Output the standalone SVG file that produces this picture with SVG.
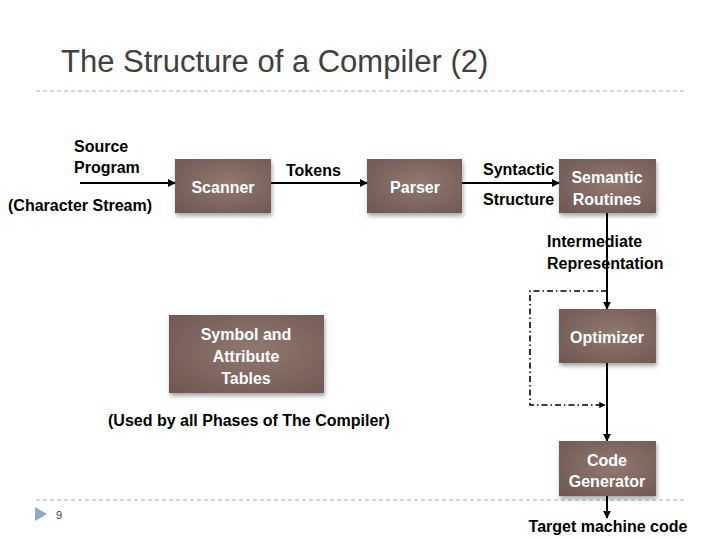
<svg xmlns="http://www.w3.org/2000/svg" width="720" height="540" viewBox="0 0 720 540">
<style>
.t{font-family:"Liberation Sans","Noto Sans CJK JP",sans-serif;font-weight:bold;font-size:16px;fill:#000}
.w{font-family:"Liberation Sans","Noto Sans CJK JP",sans-serif;font-weight:bold;font-size:16px;fill:#fff;text-anchor:middle}
.box{fill:url(#g);filter:url(#sh)}
.ln{stroke:#000;stroke-width:2;fill:none}
.dd{stroke:#000;stroke-width:1.6;fill:none;stroke-dasharray:6,3,1.5,3}
.sep{stroke:#b0b0b0;stroke-width:1;stroke-dasharray:4,3}
</style>
<defs>
<radialGradient id="g" cx="0.55" cy="0.45" r="0.75">
<stop offset="0" stop-color="#917870"/>
<stop offset="1" stop-color="#6f5751"/>
</radialGradient>
<filter id="sh" x="-10%" y="-10%" width="120%" height="130%">
<feDropShadow dx="1" dy="3" stdDeviation="2" flood-color="#000" flood-opacity="0.35"/>
</filter>
<marker id="a" viewBox="0 0 10 10" refX="9" refY="5" markerWidth="4" markerHeight="4" orient="auto">
<path d="M0,0 L10,5 L0,10 z" fill="#000"/>
</marker>
</defs>
<rect width="720" height="540" fill="#fff"/>
<text x="61" y="72" style="font-family:'Liberation Sans',sans-serif;font-size:31px;fill:#404040">The Structure of a Compiler (2)</text>
<line class="sep" x1="36" y1="91" x2="685" y2="91"/>
<line class="sep" x1="36" y1="500" x2="685" y2="500"/>
<path d="M35,507 L47,514 L35,521 z" fill="#8eaac4"/>
<text x="56" y="519" style="font-family:'Liberation Sans',sans-serif;font-size:11px;fill:#404040">9</text>

<g id="connectors">
<line class="ln" x1="80" y1="183" x2="175" y2="183" marker-end="url(#a)"/>
<line class="ln" x1="271" y1="183" x2="367" y2="183" marker-end="url(#a)"/>
<line class="ln" x1="462" y1="183" x2="559" y2="183" marker-end="url(#a)"/>
<line class="ln" x1="607" y1="213" x2="607" y2="309" marker-end="url(#a)"/>
<line class="ln" x1="607" y1="363" x2="607" y2="441" marker-end="url(#a)"/>
<line class="ln" x1="607" y1="496" x2="607" y2="518" marker-end="url(#a)"/>
<path class="dd" d="M607,291 L530,291 L530,405 L605,405" marker-end="url(#a)"/>
</g>

<g id="labels">
<text class="t" x="74" y="152">Source</text>
<text class="t" x="74" y="173">Program</text>
<text class="t" x="8" y="211">(Character Stream)</text>
<text class="t" x="286" y="176">Tokens</text>
<text class="t" x="483" y="175">Syntactic</text>
<text class="t" x="483" y="205">Structure</text>
<text class="t" x="547" y="247">Intermediate</text>
<text class="t" x="547" y="269">Representation</text>
<text class="t" x="108" y="426">(Used by all Phases of The Compiler)</text>
<text class="t" x="608" y="532" text-anchor="middle">Target machine code</text>
</g>

<g id="scanner">
<rect class="box" x="175" y="159" width="96" height="54"/>
<text class="w" x="223" y="193">Scanner</text>
</g>
<g id="parser">
<rect class="box" x="367" y="159" width="95" height="54"/>
<text class="w" x="415" y="193">Parser</text>
</g>
<g id="semantic">
<rect class="box" x="559" y="159" width="97" height="54"/>
<text class="w" x="607" y="183">Semantic</text>
<text class="w" x="607" y="205">Routines</text>
</g>
<g id="optimizer">
<rect class="box" x="559" y="309" width="97" height="54"/>
<text class="w" x="607" y="343">Optimizer</text>
</g>
<g id="codegen">
<rect class="box" x="559" y="441" width="97" height="55"/>
<text class="w" x="607" y="466">Code</text>
<text class="w" x="607" y="487">Generator</text>
</g>
<g id="symtab">
<rect class="box" x="169" y="315" width="155" height="78"/>
<text class="w" x="246" y="340">Symbol and</text>
<text class="w" x="246" y="362">Attribute</text>
<text class="w" x="246" y="384">Tables</text>
</g>
</svg>
